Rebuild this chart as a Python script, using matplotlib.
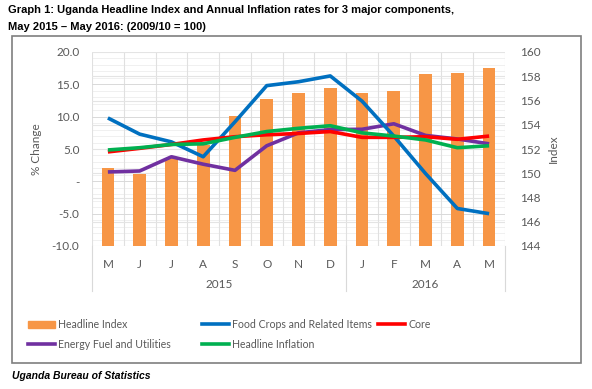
import numpy as np
import matplotlib.pyplot as plt
from matplotlib.patches import Rectangle

months = ['M', 'J', 'J', 'A', 'S', 'O', 'N', 'D', 'J', 'F', 'M', 'A', 'M']
years = ['2015', '2016']

# Headline index (right axis, 2009/10 = 100)
headline_index = [150.4, 149.9, 151.25, 152.3, 154.7, 156.1, 156.6, 157.0,
                  156.6, 156.8, 158.2, 158.3, 158.7]
# annual inflation rates, % change (left axis)
food_crops = [9.8, 7.3, 6.1, 3.8, 9.2, 14.8, 15.4, 16.3, 12.4, 7.0, 1.2, -4.2, -5.0]
core = [4.55, 5.1, 5.7, 6.4, 6.9, 7.2, 7.4, 7.7, 6.8, 6.8, 6.9, 6.5, 7.0]
energy = [1.45, 1.6, 3.8, 2.65, 1.7, 5.5, 7.5, 8.0, 8.05, 8.9, 7.1, 6.55, 5.8]
headline_inflation = [4.85, 5.2, 5.7, 5.8, 6.8, 7.7, 8.2, 8.6, 7.5, 7.0, 6.4, 5.2, 5.5]

orange = '#F79646'
blue = '#0070C0'
red = '#FF0000'
purple = '#7030A0'
green = '#00B050'
txt = '#595959'
font = 'Lato'

fig = plt.figure(figsize=(5.92, 3.89), dpi=100)
ax = fig.add_axes([92/592, 1-246/389, 413/592, 194/389])
ax2 = ax.twinx()
ax.set_zorder(2)
ax.patch.set_visible(False)

x = np.arange(len(months))

# bars on the index axis
ax2.bar(x, headline_index, width=0.4, color=orange, zorder=2)
ax2.set_ylim(144, 160)
ax2.set_yticks(np.arange(144, 161, 2))
ax2.yaxis.grid(True, color='#e4e4e4', lw=0.8, zorder=0)

ax.plot(x, energy, color=purple, lw=2.6, solid_capstyle='butt')
ax.plot(x, food_crops, color=blue, lw=2.6, solid_capstyle='butt')
ax.plot(x, core, color=red, lw=2.6, solid_capstyle='butt')
ax.plot(x, headline_inflation, color=green, lw=2.6, solid_capstyle='butt')

ax.set_ylim(-10, 20)
ax.set_xlim(-0.5, len(months) - 0.5)
ax.set_yticks(np.arange(-10, 21, 5))
ax.set_yticklabels(['-10.0', '-5.0', '-', '5.0', '10.0', '15.0', '20.0'])
ax.set_xticks(x)
ax.set_xticklabels(months)

# gridlines drawn on the background axis
for v in np.arange(-10, 21, 1):
    ax2.axhline(144 + (v + 10) * 16 / 30, color='#f0f0f0' if v % 5 else '#d9d9d9',
                lw=0.7, zorder=0.5 if v % 5 else 1)
for b in np.arange(-0.5, len(months), 1):
    ax2.axvline(b, color='#e0e0e0', lw=0.8, zorder=0.5)

for a in (ax, ax2):
    for s in a.spines.values():
        s.set_visible(False)
    a.tick_params(length=0, colors=txt, labelsize=8.5)
    for lab in a.get_xticklabels() + a.get_yticklabels():
        lab.set_fontfamily(font)
ax.tick_params(axis='x', pad=9)
ax.tick_params(axis='y', pad=9)
ax2.tick_params(axis='y', pad=11)

# year groups below the month labels
for b in (-0.5, 7.5, 12.5):
    ax.plot([b, b], [0, -0.23], transform=ax.get_xaxis_transform(),
            color='#d9d9d9', lw=0.8, clip_on=False)
ax.text(3.5, -0.2, years[0], transform=ax.get_xaxis_transform(), ha='center',
        va='center', fontsize=8.5, color=txt, family=font)
ax.text(10, -0.2, years[1], transform=ax.get_xaxis_transform(), ha='center',
        va='center', fontsize=8.5, color=txt, family=font)

ax.set_ylabel('% Change', fontsize=8.5, color=txt, family=font, labelpad=7)
ax2.set_ylabel('Index', fontsize=8.5, color=txt, family=font, labelpad=5)

# legend, laid out in three fixed columns like the original
h_hi = Rectangle((0, 0), 1, 1, color=orange)
h_en, = ax.plot([], [], color=purple, lw=2.6)
h_fc, = ax.plot([], [], color=blue, lw=2.6)
h_hl, = ax.plot([], [], color=green, lw=2.6)
h_co, = ax.plot([], [], color=red, lw=2.6)
cols = [([h_hi, h_en], ['Headline Index', 'Energy Fuel and Utilities'], 28),
        ([h_fc, h_hl], ['Food Crops and Related Items', 'Headline Inflation'], 202),
        ([h_co], ['Core'], 378)]
for handles, labels, x0 in cols:
    leg = fig.legend(handles, labels, loc='upper left',
                     bbox_to_anchor=(x0/592, 1-319/389),
                     frameon=False, handlelength=2.6, handletextpad=0.25,
                     labelspacing=0.85, borderpad=0, borderaxespad=0,
                     prop={'family': font, 'size': 7.6})
    for t in leg.get_texts():
        t.set_color(txt)

# outer frame
fig.patches.append(Rectangle((12/592, 1-363/389), 569/592, 327/389,
                             transform=fig.transFigure, fill=False,
                             edgecolor='#7f7f7f', lw=1.2))

fig.text(8/592, 1-10/389,
         'Graph 1: Uganda Headline Index and Annual Inflation rates for 3 major components,',
         fontsize=8, fontweight='bold', family='Liberation Sans', va='center')
fig.text(8/592, 1-27/389, 'May 2015 \u2013 May 2016: (2009/10 = 100)',
         fontsize=8, fontweight='bold', family='Liberation Sans', va='center')
fig.text(12/592, 1-376/389, 'Uganda Bureau of Statistics', fontsize=7.5,
         fontweight='bold', style='italic', family='Liberation Sans', va='center')

fig.savefig('out.png', dpi=100)
